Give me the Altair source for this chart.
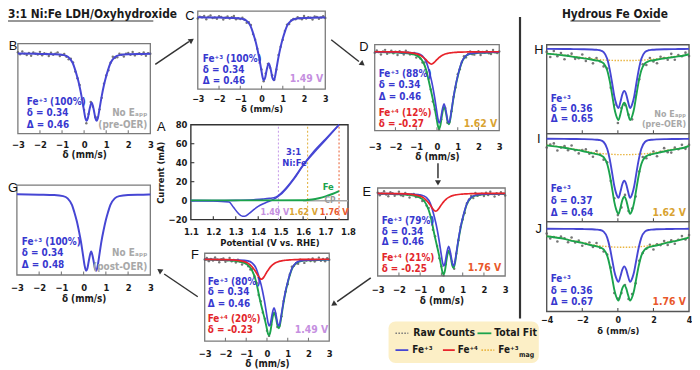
import altair as alt
import pandas as pd

OFF = 8
W, H = 692, 362
FONT = "Liberation Sans Narrow, DejaVu Sans Condensed, Lato, sans-serif"
LFONT = "Liberation Sans, Arial, sans-serif"

BLUE, RED, GREEN, GOLD = "#4646d4", "#e8242b", "#1ba34c", "#e9b43f"
BLUE_T, RED_T, GRAY_T = "#3838cf", "#e3262b", "#a8a8a8"
V149, V162, V176 = "#c58fe0", "#d9a332", "#e9582b"

# ---------------- data ----------------
X_FIT3 = [-3.0, -2.0, -1.32, -0.92, -0.72, -0.52, -0.42, -0.32, -0.27, -0.22, -0.12, -0.02, 0.05, 0.11, 0.17, 0.24,
          0.34, 0.44, 0.51, 0.57, 0.63, 0.70, 0.80, 0.90, 1.00, 1.10, 1.20, 1.40, 1.60, 2.00, 2.68, 3.0]
B_FE3 = [0.4, 0.9, 1.4, 2.7, 5.5, 14, 23, 34, 40, 47, 63, 82, 95, 100, 96, 84, 73, 84, 96, 100, 95, 82, 63, 47, 34, 23,
         14, 5.5, 2.7, 1.4, 0.9, 0.6]
C_FE3 = [0.4, 0.9, 1.4, 2.7, 5.5, 14, 23, 34, 40, 47, 63, 82, 95, 100, 96, 84, 73, 84, 96, 100, 95, 82, 63, 47, 34, 23,
         14, 5.5, 2.7, 1.4, 0.9, 0.6]
G_FE3 = [0.4, 0.9, 1.4, 2.8, 5.8, 14.5, 23.5, 34, 40, 47, 62, 81, 94, 100, 97, 86, 75, 86, 97, 100, 94, 81, 62, 47, 34,
         23.5, 14.5, 5.8, 2.8, 1.4, 0.9, 0.6]
D_FE3 = [0.4, 0.8, 1.3, 2.5, 5.1, 12.9, 21.2, 31.3, 36.8, 43.2, 58.0, 75.4, 87.4, 92.0, 88.3, 77.3, 67.2, 77.3, 88.3, 92.0,
         87.4, 75.4, 58.0, 43.2, 31.3, 21.2, 12.9, 5.1, 2.5, 1.3, 0.8, 0.6]
D_FE4 = [0.1, 0.3, 1.2, 3.2, 6.1, 10.7, 13.6, 15.7, 16.0, 15.7, 13.6, 10.7, 9.0, 7.5, 6.2, 5.0, 3.7, 2.7, 2.2, 1.9, 1.6,
         1.4, 1.1, 0.9, 0.7, 0.6, 0.5, 0.4, 0.3, 0.2, 0.1, 0.1]
D_TOT = [0.5, 1.1, 2.5, 5.7, 11.2, 23.6, 34.8, 47.0, 52.8, 58.9, 71.6, 86.1, 96.4, 99.5, 94.5, 82.3, 70.9, 80.0, 90.5,
         93.9, 89.0, 76.8, 59.1, 44.1, 32.0, 21.8, 13.4, 5.5, 2.8, 1.5, 0.9, 0.7]
E_FE3 = [0.4, 0.8, 1.2, 2.4, 4.9, 12.5, 20.5, 30.3, 35.6, 41.8, 56.1, 73.0, 84.6, 89.0, 85.4, 74.8, 65.0, 74.8, 85.4, 89.0,
         84.6, 73.0, 56.1, 41.8, 30.3, 20.5, 12.5, 4.9, 2.4, 1.2, 0.8, 0.5]
E_FE4 = [0.1, 0.4, 1.6, 4.4, 8.4, 14.7, 18.7, 21.6, 22.0, 21.6, 18.7, 14.7, 12.3, 10.3, 8.6, 6.8, 5.1, 3.7, 3.1, 2.6, 2.2,
         1.9, 1.5, 1.2, 1.0, 0.8, 0.7, 0.5, 0.4, 0.2, 0.1, 0.1]
E_TOT = [0.5, 1.2, 2.8, 6.8, 13.3, 27.2, 39.2, 51.9, 57.6, 63.4, 74.8, 87.7, 96.9, 99.3, 94.0, 81.6, 70.1, 78.5, 88.5,
         91.6, 86.8, 74.9, 57.6, 43.0, 31.3, 21.3, 13.2, 5.4, 2.8, 1.4, 0.9, 0.6]
F_FE3 = [0.3, 0.8, 1.2, 2.3, 4.8, 12.2, 20.0, 29.6, 34.8, 40.9, 54.8, 71.3, 82.7, 87.0, 83.5, 73.1, 63.5, 73.1, 83.5, 87.0,
         82.7, 71.3, 54.8, 40.9, 29.6, 20.0, 12.2, 4.8, 2.3, 1.2, 0.8, 0.5]
F_FE4 = [0.2, 0.5, 1.9, 5.2, 9.9, 17.4, 22.1, 25.5, 26.0, 25.5, 22.1, 17.4, 14.6, 12.2, 10.1, 8.1, 6.0, 4.4, 3.6, 3.1, 2.6,
         2.2, 1.8, 1.4, 1.2, 1.0, 0.8, 0.6, 0.4, 0.3, 0.1, 0.1]
F_TOT = [0.5, 1.3, 3.1, 7.5, 14.7, 29.6, 42.1, 55.1, 60.8, 66.4, 76.9, 88.7, 97.3, 99.2, 93.6, 81.2, 69.5, 77.5, 87.1,
         90.1, 85.3, 73.5, 56.6, 42.3, 30.8, 21.0, 13.0, 5.4, 2.7, 1.5, 0.9, 0.6]

X_RAW3 = [-3.0, -2.9, -2.8, -2.7, -2.6, -2.5, -2.4, -2.3, -2.2, -2.1, -2.0, -1.9, -1.8, -1.7, -1.6, -1.5, -1.4, -1.3, -1.2,
          -1.1, -1.0, -0.9, -0.8, -0.7, -0.6, -0.5, -0.4, -0.3, -0.2, -0.1, 0.0, 0.1, 0.2, 0.3, 0.4, 0.5, 0.6, 0.7, 0.8,
          0.9, 1.0, 1.1, 1.2, 1.3, 1.4, 1.5, 1.6, 1.7, 1.8, 1.9, 2.0, 2.1, 2.2, 2.3, 2.4, 2.5, 2.6, 2.7, 2.8, 2.9, 3.0]
RAW_B = [-1.6, 1.4, -2.55, 0.5, 2.5, -0.45, 3.6, -1.35, 0.7, 1.8, -2.1, 2.95, 0.0, 1.05, 4.1, -0.8, 2.3, 0.45, -1.4, 3.9,
         2.3, 1.0, 5.3, 9.0, 8.0, 13.5, 27.0, 37.0, 47.0, 68.0, 84.0, 103.5, 90.0, 72.0, 79.0, 94.0, 95.0, 83.0, 66.0, 45.0,
         33.0, 25.0, 14.0, 5.0, 6.5, 6.0, 0.7, 2.2, 4.8, 0.6, -0.6, 2.3, -1.8, 3.1, 1.05, 0.0, 1.95, -1.1, 3.8, -0.3, 0.65]
RAW_C = [2.4, -0.6, 0.45, -1.5, 3.5, -0.45, -2.4, 1.65, 0.7, 2.8, -1.1, -0.05, 4.0, 1.05, -0.9, 2.2, 0.3, -1.55, 3.6, 1.9,
         3.3, 1.0, 4.3, 9.0, 8.0, 12.5, 27.0, 36.0, 50.0, 68.0, 83.0, 101.5, 89.0, 74.0, 80.0, 92.0, 99.0, 83.0, 60.0, 47.0,
         36.0, 22.0, 12.0, 11.0, 5.5, 3.0, 3.7, 0.2, 1.8, 3.6, -1.6, 2.3, 0.2, 1.1, 4.05, -1.0, -0.05, 2.9, 0.8, -1.3, 1.65]
RAW_D = [1.47, -1.52, 0.54, 3.6, -0.38, -2.31, 2.74, 0.82, -1.1, 2.03, 0.15, 4.25, -0.63, 1.5, 3.65, -1.13, 1.16, 3.53,
         2.99, 1.75, 7.68, 5.2, 8.68, 13.92, 14.08, 26.62, 35.08, 48.88, 64.36, 74.76, 86.2, 100.5, 87.4, 74.16, 72.88,
         91.72, 90.84, 76.83, 58.08, 46.12, 29.0, 22.75, 13.36, 5.78, 7.41, 2.98, -0.26, 3.24, 3.85, 1.65, -0.55, 4.34,
         0.23, 1.12, -0.92, 2.02, 2.97, -2.09, 0.82, 1.7, -0.34]
RAW_E = [-0.51, 2.51, 0.58, -2.35, 1.67, 3.73, -1.21, -0.11, 2.97, 1.11, -1.76, 2.38, 3.51, -0.34, 1.86, 5.13, 1.48, 0.94,
         4.51, 4.44, 2.57, 9.4, 9.32, 15.14, 18.11, 29.42, 44.61, 52.71, 64.62, 79.67, 89.4, 100.6, 86.8, 72.47, 73.71,
         83.74, 92.53, 73.89, 57.61, 41.04, 32.25, 24.28, 12.12, 7.69, 3.38, 5.98, -0.25, 3.27, 1.86, 0.66, 3.47, -0.64,
         2.25, -1.87, 1.08, 4.02, -0.02, 1.91, -1.18, 0.71, 2.67]
RAW_F = [0.51, -1.47, 2.6, -0.33, 1.7, -2.23, 0.83, 3.93, 0.03, -0.83, 3.3, 1.45, -1.4, 2.77, 1.0, 4.29, 0.69, 3.21, 6.86,
         3.9, 4.16, 9.2, 13.41, 12.62, 22.13, 30.95, 46.63, 54.93, 69.46, 77.61, 93.2, 100.05, 85.4, 72.01, 70.93, 88.42,
         86.99, 74.6, 54.63, 42.32, 32.75, 19.97, 9.96, 8.64, 5.36, 5.97, 0.77, 1.27, 4.88, 1.68, 0.48, 2.36, -0.75, 3.14,
         1.09, -1.97, 1.99, -0.09, 2.83, -1.29, 0.67]

X_FIT4 = [-4.0, -3.0, -2.5, -2.0, -1.5, -1.2, -1.0, -0.8, -0.6, -0.45, -0.3, -0.2, -0.1, 0.035, 0.15, 0.25, 0.36, 0.47,
          0.57, 0.685, 0.82, 0.92, 1.02, 1.17, 1.32, 1.52, 1.72, 1.92, 2.22, 2.72, 3.22, 3.72, 4.0]
HIJ_FE3 = [0.4, 0.5, 0.7, 0.9, 1.3, 1.9, 2.7, 5.8, 17, 36, 62, 80, 92, 100, 89, 77, 71, 77, 89, 100, 92, 80, 62, 36, 17,
           5.8, 2.7, 1.9, 1.3, 0.9, 0.7, 0.5, 0.4]
H_MAG = [8, 11, 13, 15, 17, 18, 18.5, 19, 19.3, 19.5, 19.7, 19.8, 19.9, 20, 20, 20, 20, 20, 20, 20, 19.9, 19.8, 19.7,
         19.5, 19.3, 19, 18.5, 18, 17, 15, 13, 11, 9]
H_TOT = [8.4, 11.5, 13.7, 15.9, 18.3, 19.9, 21.2, 24.8, 36.3, 55.5, 81.7, 99.8, 111.9, 120, 109, 97, 91, 97, 109, 120,
         111.9, 99.8, 81.7, 55.5, 36.3, 24.8, 21.2, 19.9, 18.3, 15.9, 13.7, 11.5, 9.4]
I_MAG = [11, 15, 17.5, 20, 23, 24.3, 25, 25.6, 26, 26.3, 26.6, 26.7, 26.9, 27, 27, 27, 27, 27, 27, 27, 26.9, 26.7, 26.6,
         26.3, 26, 25.6, 25, 24.3, 23, 20, 17.5, 15, 12]
I_TOT = [11.4, 15.5, 18.2, 20.9, 24.3, 26.2, 27.7, 31.4, 43, 62.3, 88.6, 106.7, 118.9, 127, 116, 104, 98, 104, 116, 127,
         118.9, 106.7, 88.6, 62.3, 43, 31.4, 27.7, 26.2, 24.3, 20.9, 18.2, 15.5, 12.4]
J_MAG = [14, 19, 23, 26, 30, 31.5, 32.4, 33.2, 33.8, 34.1, 34.5, 34.7, 34.8, 35, 35, 35, 35, 35, 35, 35, 34.8, 34.7, 34.5,
         34.1, 33.8, 33.2, 32.4, 31.5, 30, 26, 23, 19, 16]
J_TOT = [14.4, 19.5, 23.7, 26.9, 31.3, 33.4, 35.1, 39, 50.8, 70.1, 96.5, 114.7, 126.8, 135, 124, 112, 106, 112, 124, 135,
         126.8, 114.7, 96.5, 70.1, 50.8, 39, 35.1, 33.4, 31.3, 26.9, 23.7, 19.5, 16.4]

X_RAW4 = [-4.0, -3.8, -3.6, -3.4, -3.2, -3.0, -2.8, -2.6, -2.4, -2.2, -2.0, -1.8, -1.6, -1.4, -1.2, -1.0, -0.8, -0.6, -0.4,
          -0.2, 0.0, 0.2, 0.4, 0.6, 0.8, 1.0, 1.2, 1.4, 1.6, 1.8, 2.0, 2.2, 2.4, 2.6, 2.8, 3.0, 3.2, 3.4, 3.6, 3.8, 4.0]
RAW_H = [5.4, 14.1, 3.85, 12.55, 7.2, 17.8, 11.55, 8.35, 17.1, 16.0, 9.9, 20.8, 15.7, 24.7, 15.7, 21.2, 29.8, 33.3, 65.6,
         94.8, 125.0, 100.0, 95.0, 111.0, 118.9, 78.8, 51.6, 26.3, 27.5, 15.8, 21.7, 24.6, 13.65, 15.7, 18.65, 8.75, 18.7,
         10.8, 12.7, 6.7, 12.45]
RAW_I = [15.2, 10.1, 8.15, 20.05, 14.9, 12.8, 19.75, 11.75, 19.8, 25.0, 19.2, 18.3, 25.5, 30.7, 20.9, 26.7, 35.5, 40.1,
         71.5, 100.7, 129.0, 116.0, 95.0, 122.0, 117.9, 97.7, 55.5, 31.1, 33.2, 27.3, 22.0, 29.7, 22.45, 16.2, 22.85, 23.65,
         15.3, 18.1, 10.6, 17.3, 10.65]
RAW_J = [9.4, 18.6, 15.95, 24.15, 15.2, 18.3, 25.55, 16.85, 26.2, 22.7, 32.2, 28.7, 26.1, 34.6, 27.1, 36.1, 43.1, 48.8,
         73.3, 120.7, 131.0, 121.0, 106.0, 132.0, 122.8, 102.7, 60.3, 45.8, 37.8, 30.7, 39.2, 29.6, 31.05, 23.5, 30.75,
         22.25, 28.5, 21.0, 14.1, 20.4, 12.25]

# cyclic voltammetry (panel A)
CV_FWD_E = [1.10, 1.20, 1.30, 1.38, 1.42, 1.45, 1.48, 1.50, 1.53, 1.56, 1.60, 1.65, 1.70, 1.76]
CV_FWD_I = [0.0, 0.0, 0.3, 1.0, 1.6, 2.4, 4.0, 7.5, 15.0, 24.0, 37.5, 52.5, 65.0, 80.0]
CV_REV_E = [1.76, 1.70, 1.65, 1.60, 1.56, 1.53, 1.50, 1.48, 1.46, 1.44, 1.42, 1.40, 1.38, 1.36, 1.34, 1.33, 1.31, 1.29,
            1.27, 1.20, 1.10]
CV_REV_I = [80.0, 64.0, 51.0, 37.0, 23.0, 14.0, 6.5, 3.0, 0.5, -1.5, -3.5, -6.0, -9.5, -13.5, -16.5, -16.5, -13.0, -7.0,
            -1.5, -0.2, 0.0]
CV_FE_E = [1.10, 1.40, 1.60, 1.62, 1.64, 1.67, 1.70, 1.73, 1.76]
CV_FE_I = [0.3, 0.3, 0.4, 0.6, 1.2, 2.6, 4.5, 7.0, 10.0]
CP_E = [1.49, 1.62, 1.76]
CP_LABELS = ["1.49 V", "1.62 V", "1.76 V"]
CP_COLORS = ["#caa0ea", "#e3b547", "#ea6a40"]

# ---------------- panel layout (frame boxes, image pixels) ----------------
PANELS = {
    "A": dict(box=(193, 352, 124, 220), xdom=(1.1, 1.8), ydom=(-20, 80), up=True),
    "B": dict(box=(18, 152, 42, 133), xdom=(-3, 3), ydom=(-14.2, 119)),
    "C": dict(box=(200, 329, 9, 88), xdom=(-3, 3), ydom=(-9.4, 114)),
    "D": dict(box=(379, 505, 43, 130), xdom=(-3, 3), ydom=(-9, 102)),
    "E": dict(box=(382, 511, 188, 277), xdom=(-3, 3), ydom=(-6.4, 101.3)),
    "F": dict(box=(207, 333, 254, 343), xdom=(-3, 3), ydom=(-7.7, 107)),
    "G": dict(box=(17, 152, 185, 276), xdom=(-3, 3), ydom=(-11.6, 105.5)),
    "H": dict(box=(553, 697, 43, 133), xdom=(-4, 4), ydom=(-6.7, 143)),
    "I": dict(box=(553, 697, 133, 222), xdom=(-4, 4), ydom=(-8.3, 140)),
    "J": dict(box=(553, 697, 222, 313), xdom=(-4, 4), ydom=(-13, 155.6)),
}


def sx(p):
    x0, x1, _, _ = p["box"]
    return alt.Scale(domain=list(p["xdom"]), range=[x0 - OFF, x1 - OFF], nice=False, zero=False)


def sy(p):
    _, _, y0, y1 = p["box"]
    rng = [y1 - OFF, y0 - OFF] if p.get("up") else [y0 - OFF, y1 - OFF]
    return alt.Scale(domain=list(p["ydom"]), range=rng, nice=False, zero=False)


def frac(p, fx, fy):
    xd, yd = p["xdom"], p["ydom"]
    bot, top = (yd[0], yd[1]) if p.get("up") else (yd[1], yd[0])
    return xd[0] + fx * (xd[1] - xd[0]), bot + fy * (top - bot)


def bottom_axis(p, values, fmt, title, lp, tp, lsize=9.5, tsize=10):
    y1 = p["box"][3] - OFF
    return alt.Axis(orient="bottom", offset=y1 - H, values=values, format=fmt, title=title,
                    domain=False, ticks=False, grid=False, labelPadding=lp, titlePadding=tp,
                    labelFont=FONT, labelFontSize=lsize, labelFontWeight="bold", labelColor="#1a1a1a",
                    titleFont=FONT, titleFontSize=tsize, titleFontWeight="bold", titleColor="#1a1a1a",
                    labelFlush=False, labelOverlap=False)


def frame(p, xaxis=None, yaxis=None, stroke="#7a7a7a", sw=1.3):
    xd, yd = p["xdom"], p["ydom"]
    df = pd.DataFrame({"x": [xd[0]], "x2": [xd[1]], "y": [yd[0]], "y2": [yd[1]]})
    return alt.Chart(df).mark_rect(fillOpacity=0, stroke=stroke, strokeWidth=sw).encode(
        x=alt.X("x:Q", scale=sx(p), axis=xaxis), x2="x2:Q",
        y=alt.Y("y:Q", scale=sy(p), axis=yaxis), y2="y2:Q")


def inner_ticks(p, xvals, color, yvals=None, length=3.5):
    _, _, y0, y1 = p["box"]
    x0, x1 = p["box"][0], p["box"][1]
    yd, xd = p["ydom"], p["xdom"]
    upx = (yd[1] - yd[0]) / (y1 - y0)
    if p.get("up"):
        ybase, ytip = yd[0], yd[0] + length * upx
    else:
        ybase, ytip = yd[1], yd[1] - length * upx
    out = []
    df = pd.DataFrame({"x": xvals, "y": [ybase] * len(xvals), "y2": [ytip] * len(xvals)})
    out.append(alt.Chart(df).mark_rule(color=color, strokeWidth=1.1).encode(
        x=alt.X("x:Q", scale=sx(p), axis=None), y=alt.Y("y:Q", scale=sy(p), axis=None), y2="y2:Q"))
    if yvals:
        xpx = (xd[1] - xd[0]) / (x1 - x0)
        dfy = pd.DataFrame({"x": [xd[0]] * len(yvals), "x2": [xd[0] + length * xpx] * len(yvals), "y": yvals})
        out.append(alt.Chart(dfy).mark_rule(color=color, strokeWidth=1.1).encode(
            x=alt.X("x:Q", scale=sx(p), axis=None), x2="x2:Q", y=alt.Y("y:Q", scale=sy(p), axis=None)))
    return out


def curve(p, xv, yv, color, width=1.7, dash=None, order=False):
    df = pd.DataFrame({"x": xv, "y": yv, "i": list(range(len(xv)))})
    kw = dict(color=color, strokeWidth=width, interpolate="monotone")
    if dash:
        kw["strokeDash"] = dash
    enc = dict(x=alt.X("x:Q", scale=sx(p), axis=None), y=alt.Y("y:Q", scale=sy(p), axis=None))
    if order:
        enc["order"] = alt.Order("i:Q")
    return alt.Chart(df).mark_line(**kw).encode(**enc)


def raw(p, xv, yv, size=6):
    df = pd.DataFrame({"x": xv, "y": yv})
    return alt.Chart(df).mark_circle(size=size, color="#5e5e5e", opacity=0.85).encode(
        x=alt.X("x:Q", scale=sx(p), axis=None), y=alt.Y("y:Q", scale=sy(p), axis=None))


def notes(p, rows, align, size=10):
    recs = []
    for t, fx, fy, c in rows:
        x, y = frac(p, fx, fy)
        recs.append({"x": x, "y": y, "t": t, "c": c})
    df = pd.DataFrame(recs)
    return alt.Chart(df).mark_text(align=align, baseline="middle", font=FONT, fontWeight="bold",
                                   fontSize=size).encode(
        x=alt.X("x:Q", scale=sx(p), axis=None), y=alt.Y("y:Q", scale=sy(p), axis=None),
        text="t:N", color=alt.Color("c:N", scale=None))


def PX(f):
    return alt.X(f + ":Q", scale=None, axis=None)


def PY(f):
    return alt.Y(f + ":Q", scale=None, axis=None)


layers = []
V3 = [-3, -2, -1, 0, 1, 2, 3]

# ---- B, C, G: single Fe+3 doublet ----
for key, fe3, rawv, lp, tp, ls, ts in [("B", B_FE3, RAW_B, 6, 1, 9.5, 10), ("C", C_FE3, RAW_C, 5, 1, 9, 9.5),
                                       ("G", G_FE3, None, 8, 1, 9.5, 10)]:
    p = PANELS[key]
    layers.append(frame(p, xaxis=bottom_axis(p, V3, "d", "δ (mm/s)", lp, tp, ls, ts)))
    layers += inner_ticks(p, [-2, -1, 0, 1, 2], "#7a7a7a")
    if rawv is not None:
        layers.append(raw(p, X_RAW3, rawv))
    layers.append(curve(p, X_FIT3, fe3, BLUE, 2.0))

# ---- D, E, F: Fe+3 + Fe+4 ----
for key, fe3, fe4, tot, rawv, lp in [("D", D_FE3, D_FE4, D_TOT, RAW_D, 11), ("E", E_FE3, E_FE4, E_TOT, RAW_E, 9),
                                    ("F", F_FE3, F_FE4, F_TOT, RAW_F, 7)]:
    p = PANELS[key]
    layers.append(frame(p, xaxis=bottom_axis(p, V3, "d", "δ (mm/s)", lp, 1)))
    layers += inner_ticks(p, [-2, -1, 0, 1, 2], "#7a7a7a")
    layers.append(raw(p, X_RAW3, rawv))
    layers.append(curve(p, X_FIT3, tot, GREEN, 1.9))
    layers.append(curve(p, X_FIT3, fe3, BLUE, 1.7))
    layers.append(curve(p, X_FIT3, fe4, RED, 1.7))

# ---- H, I, J: hydrous Fe oxide ----
for key, mag, tot, rawv in [("H", H_MAG, H_TOT, RAW_H), ("I", I_MAG, I_TOT, RAW_I), ("J", J_MAG, J_TOT, RAW_J)]:
    p = PANELS[key]
    ax = bottom_axis(p, [-4, -2, 0, 2, 4], "d", "δ (mm/s)", 4, 1, 9, 9.5) if key == "J" else None
    layers.append(frame(p, xaxis=ax, stroke="#555555", sw=1.4))
    layers += inner_ticks(p, [-2, 0, 2], "#555555")
    layers.append(raw(p, X_RAW4, rawv, size=7))
    layers.append(curve(p, X_FIT4, mag, GOLD, 1.4, dash=[1.5, 1.5]))
    layers.append(curve(p, X_FIT4, tot, GREEN, 1.9))
    layers.append(curve(p, X_FIT4, HIJ_FE3, BLUE, 1.9))

# ---- A: CV ----
pA = PANELS["A"]
xaxA = bottom_axis(pA, [1.1, 1.2, 1.3, 1.4, 1.5, 1.6, 1.7, 1.8], ".1f", "Potential (V vs. RHE)", 7, 2, 9.5, 9.5)
yaxA = alt.Axis(orient="left", offset=-(pA["box"][0] - OFF), values=[-20, 0, 20, 40, 60, 80], format="d",
                title="Current (mA)", domain=False, ticks=False, grid=False, labelPadding=4, titlePadding=3,
                labelFont=FONT, labelFontSize=9.5, labelFontWeight="bold", labelColor="#1a1a1a",
                titleFont=FONT, titleFontSize=9.5, titleFontWeight="bold", titleColor="#1a1a1a",
                labelFlush=False, labelOverlap=False)
layers.append(frame(pA, xaxis=xaxA, yaxis=yaxA, stroke="#333333", sw=1.4))
layers += inner_ticks(pA, [1.2, 1.3, 1.4, 1.5, 1.6, 1.7], "#333333", yvals=[0, 20, 40, 60])
cp_df = pd.DataFrame({"e": CP_E, "lo": [-20] * 3, "hi": [80] * 3, "c": CP_COLORS})
layers.append(alt.Chart(cp_df).mark_rule(strokeWidth=1.1, strokeDash=[2, 2]).encode(
    x=alt.X("e:Q", scale=sx(pA), axis=None), y=alt.Y("lo:Q", scale=sy(pA), axis=None), y2="hi:Q",
    color=alt.Color("c:N", scale=None)))
layers.append(curve(pA, [1.60, 1.80], [0, 0], "#a9a9a9", 1.5))
layers.append(curve(pA, CV_FWD_E, CV_FWD_I, BLUE, 1.6, order=True))
layers.append(curve(pA, CV_REV_E, CV_REV_I, BLUE, 1.6, order=True))
layers.append(curve(pA, CV_FE_E, CV_FE_I, GREEN, 2.0))
layers.append(notes(pA, [("3:1", 0.654, 0.708, BLUE_T), ("Ni:Fe", 0.660, 0.594, BLUE_T),
                         ("Fe", 0.874, 0.344, GREEN)], "center", 9.5))
layers.append(notes(pA, [("CP", 0.885, 0.205, "#9a9a9a")], "center", 8.5))
layers.append(notes(pA, [(CP_LABELS[0], 0.535, 0.075, V149), (CP_LABELS[1], 0.717, 0.075, V162),
                         (CP_LABELS[2], 0.912, 0.075, V176)], "center", 9))

# ---- panel annotations ----
NEB = "No E\u2090\u209a\u209a"
ANN = {
    "B": ([("Fe⁺³ (100%)", .067, .352, BLUE_T), ("δ = 0.34", .067, .231, BLUE_T), ("Δ = 0.46", .067, .099, BLUE_T)],
          [(NEB, .978, .231, GRAY_T), ("(pre-OER)", .978, .099, GRAY_T)]),
    "C": ([("Fe⁺³ (100%)", .039, .380, BLUE_T), ("δ = 0.34", .039, .241, BLUE_T), ("Δ = 0.46", .039, .101, BLUE_T)],
          [("1.49 V", .984, .127, V149)]),
    "D": ([("Fe⁺³ (88%)", .032, .655, BLUE_T), ("δ = 0.34", .032, .529, BLUE_T), ("Δ  = 0.46", .032, .391, BLUE_T),
           ("Fe⁺⁴ (12%)", .032, .207, RED_T), ("δ = -0.27", .032, .080, RED_T)],
          [("1.62 V", .984, .080, V162)]),
    "E": ([("Fe⁺³ (79%)", .031, .629, BLUE_T), ("δ = 0.34", .031, .494, BLUE_T), ("Δ  = 0.46", .031, .382, BLUE_T),
           ("Fe⁺⁴ (21%)", .031, .202, RED_T), ("δ = -0.25", .031, .079, RED_T)],
          [("1.76 V", .969, .090, V176)]),
    "F": ([("Fe⁺³ (80%)", .024, .674, BLUE_T), ("δ = 0.34", .024, .562, BLUE_T), ("Δ  = 0.46", .024, .427, BLUE_T),
           ("Fe⁺⁴ (20%)", .024, .247, RED_T), ("δ = -0.23", .024, .124, RED_T)],
          [("1.49 V", .992, .124, V149)]),
    "G": ([("Fe⁺³ (100%)", .037, .363, BLUE_T), ("δ = 0.34", .037, .242, BLUE_T), ("Δ = 0.48", .037, .110, BLUE_T)],
          [(NEB, .978, .242, GRAY_T), ("(post-OER)", .978, .088, GRAY_T)]),
    "H": ([("Fe⁺³", .028, .389, BLUE_T), ("δ = 0.36", .028, .278, BLUE_T), ("Δ = 0.65", .028, .167, BLUE_T)],
          [(NEB, .979, .222, GRAY_T), ("(pre-OER)", .979, .111, GRAY_T)]),
    "I": ([("Fe⁺³", .028, .371, BLUE_T), ("δ = 0.37", .028, .236, BLUE_T), ("Δ = 0.64", .028, .101, BLUE_T)],
          [("1.62 V", .979, .101, V162)]),
    "J": ([("Fe⁺³", .028, .363, BLUE_T), ("δ = 0.36", .028, .231, BLUE_T), ("Δ = 0.67", .028, .110, BLUE_T)],
          [("1.76 V", .979, .110, V176)]),
}
for key, (left, right) in ANN.items():
    p = PANELS[key]
    layers.append(notes(p, left, "left", 10))
    rsize = 9 if key == "H" else (10.5 if key not in ("B", "G") else 10)
    layers.append(notes(p, right, "right", rsize))

# ---------------- decorations (canvas pixels) ----------------
leg_box = pd.DataFrame({"x": [385], "x2": [537], "y": [315], "y2": [357]})
layers.append(alt.Chart(leg_box).mark_rect(cornerRadius=7, color="#fcefc6").encode(
    x=PX("x"), x2="x2:Q", y=PY("y"), y2="y2:Q"))

rules = pd.DataFrame({
    "x": [149, 327, 435, 367, 192, 518, 0, 569],
    "y": [55, 30, 155, 271, 290, 7, 11, 11],
    "x2": [183, 355, 435, 333, 158, 518, 147, 660],
    "y2": [32, 52, 170, 295, 267, 312, 11, 11],
    "w": [1.5, 1.5, 1.5, 1.5, 1.5, 2.2, 1.1, 1.1],
})
layers.append(alt.Chart(rules).mark_rule(color="#333333").encode(
    x=PX("x"), y=PY("y"), x2="x2:Q", y2="y2:Q", strokeWidth=alt.StrokeWidth("w:Q", scale=None)))
heads = pd.DataFrame({"x": [185, 358, 435, 330, 154], "y": [31, 54, 174, 297, 264],
                      "a": [56.3, 127.7, 180, 234.9, 304.4]})
layers.append(alt.Chart(heads).mark_point(shape="triangle", filled=True, size=38, color="#333333", opacity=1).encode(
    x=PX("x"), y=PY("y"), angle=alt.Angle("a:Q", scale=None)))

leg_solid = pd.DataFrame({"x": [475, 392, 440], "x2": [489, 405, 452], "y": [327, 344, 344],
                          "c": [GREEN, BLUE, RED]})
layers.append(alt.Chart(leg_solid).mark_rule(strokeWidth=1.8).encode(
    x=PX("x"), x2="x2:Q", y=PY("y"), color=alt.Color("c:N", scale=None)))
leg_dot = pd.DataFrame({"x": [392, 479], "x2": [405, 492], "y": [327, 344], "c": ["#777777", GOLD]})
layers.append(alt.Chart(leg_dot).mark_rule(strokeWidth=1.6, strokeDash=[1.5, 1.5]).encode(
    x=PX("x"), x2="x2:Q", y=PY("y"), color=alt.Color("c:N", scale=None)))

bold_left = pd.DataFrame({
    "x": [0, 410, 492, 409, 455, 496],
    "y": [4.5, 327, 327, 344, 344, 344],
    "t": ["3:1 Ni:Fe LDH/Oxyhydroxide", "Raw Counts", "Total Fit", "Fe⁺³", "Fe⁺⁴", "Fe⁺³"],
    "s": [12, 10.5, 10.5, 10, 10, 10],
})
layers.append(alt.Chart(bold_left).mark_text(align="left", baseline="middle", font=FONT, fontWeight="bold",
                                             color="#1a1a1a").encode(
    x=PX("x"), y=PY("y"), text="t:N", size=alt.Size("s:Q", scale=None)))
sub_df = pd.DataFrame({"x": [517], "y": [349], "t": ["mag"]})
layers.append(alt.Chart(sub_df).mark_text(align="left", baseline="middle", font=FONT, fontWeight="bold",
                                          fontSize=7, color="#1a1a1a").encode(x=PX("x"), y=PY("y"), text="t:N"))
title2 = pd.DataFrame({"x": [614], "y": [4.5], "t": ["Hydrous Fe Oxide"]})
layers.append(alt.Chart(title2).mark_text(align="center", baseline="middle", font=FONT, fontWeight="bold",
                                          fontSize=12, color="#1a1a1a").encode(x=PX("x"), y=PY("y"), text="t:N"))

letters = pd.DataFrame({
    "t": ["A", "B", "C", "D", "E", "F", "G", "H", "I", "J"],
    "x": [155, 5, 184, 360, 363, 189, 5, 537, 537, 537],
    "y": [118, 36, 6, 37, 184, 248, 180, 40, 130, 222],
})
layers.append(alt.Chart(letters).mark_text(align="center", baseline="middle", font=LFONT, fontSize=13,
                                           color="#111111").encode(x=PX("x"), y=PY("y"), text="t:N"))

chart = alt.layer(*layers).resolve_scale(
    x="independent", y="independent", color="independent", size="independent",
    angle="independent", strokeWidth="independent"
).resolve_axis(x="independent", y="independent").properties(
    width=W, height=H, padding=0, autosize=alt.AutoSizeParams(type="none")
).configure_view(stroke=None)

chart.save("out.html", embed_options={"renderer": "svg", "actions": False})
